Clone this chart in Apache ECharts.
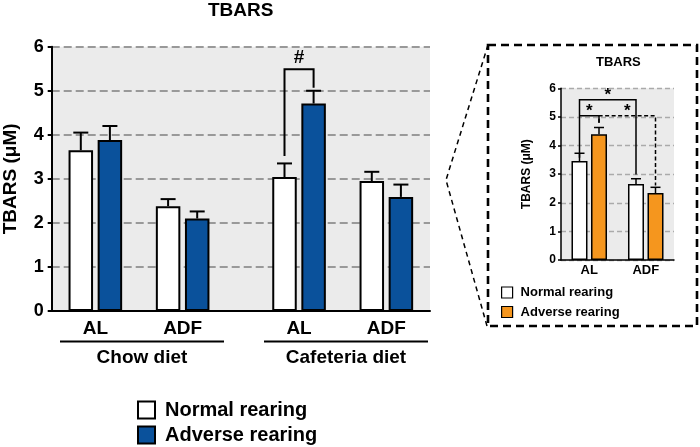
<!DOCTYPE html>
<html>
<head>
<meta charset="utf-8">
<script src="https://cdn.jsdelivr.net/npm/echarts@6/dist/echarts.min.js"></script>
<style>
  html, body { margin: 0; padding: 0; background: #fff; }
  #chart { width: 700px; height: 447px; }
</style>
</head>
<body>
<div id="chart"></div>
<script>
const seriesNames = ['Normal rearing', 'Adverse rearing'];
const groupLabels = ['AL', 'ADF', 'AL', 'ADF'];
const dietLabels = ['Chow diet', 'Cafeteria diet'];
const normalMean = [3.65, 2.38, 3.04, 2.95];
const normalSem = [0.40, 0.16, 0.31, 0.21];
const adverseMean = [3.88, 2.10, 4.71, 2.59];
const adverseSem = [0.32, 0.16, 0.29, 0.28];
// brackets: a / b = [group, 0 normal | 1 adverse], leg ends and top in uM
const mainSig = [
    { a: [2, 0], b: [2, 1], ends: [3.52, 5.07], top: 5.49, mark: '#' },
];

const insetLabels = ['AL', 'ADF'];
const insetNormalMean = [3.46, 2.66];
const insetNormalSem = [0.27, 0.18];
const insetAdverseMean = [4.39, 2.34];
const insetAdverseSem = [0.24, 0.20];
const insetSig = [
    { a: [0, 0], b: [1, 0], ends: [3.57, 2.99], top: 5.6, mark: '*' },
    { a: [0, 0], b: [0, 1], ends: [5.04, 4.8], top: 5.04, mark: '*' },
    { a: [0, 1], b: [1, 1], ends: [4.8, 2.6], top: 5.04, mark: '*', dashed: true },
];

const FONT = 'Arial, "Liberation Sans", Helvetica, sans-serif';
const BLUE = '#0a519b';
const ORANGE = '#f5961e';

// main x axis is a fine value scale, each group sits on a slot
const groupSlot = [3, 9, 17, 23];
const slotOf = (g, side) => groupSlot[g] - 1 + 2 * side;
const slotLabel = {};
groupSlot.forEach((s, i) => { slotLabel[s] = groupLabels[i]; });

const INSET_OFF = 9.75;

function errorBar(xPix, cap, width) {
    return function (params, api) {
        const m = api.value(1);
        const e = api.value(2);
        const x = xPix(api);
        const y0 = api.coord([api.value(0), m])[1];
        const y1 = api.coord([api.value(0), m + e])[1];
        const style = { stroke: '#000', lineWidth: width };
        return {
            type: 'group',
            children: [
                { type: 'line', shape: { x1: x, y1: y0, x2: x, y2: y1 }, style },
                { type: 'line', shape: { x1: x - cap, y1: y1, x2: x + cap, y2: y1 }, style },
            ],
        };
    };
}

function bracket(sig, xOf, width, fontSize, markGap) {
    return function (params, api) {
        const s = sig[params.dataIndex];
        const xa = xOf(api, s.a);
        const xb = xOf(api, s.b);
        const y = v => api.coord([0, v])[1];
        const style = { stroke: '#000', lineWidth: width, fill: null };
        if (s.dashed) style.lineDash = [4, 2.5];
        return {
            type: 'group',
            children: [
                {
                    type: 'polyline',
                    shape: { points: [[xa, y(s.ends[0])], [xa, y(s.top)], [xb, y(s.top)], [xb, y(s.ends[1])]] },
                    style,
                },
                {
                    type: 'text',
                    style: {
                        text: s.mark, x: (xa + xb) / 2, y: y(s.top) - markGap,
                        textAlign: 'center', textVerticalAlign: 'bottom',
                        font: `bold ${fontSize}px ${FONT}`, fill: '#000',
                    },
                },
            ],
        };
    };
}

const mainX = (api, ref) => api.coord([slotOf(ref[0], ref[1]), 0])[0];
const insetX = (api, ref) => api.coord([ref[0], 0])[0] + (ref[1] ? INSET_OFF : -INSET_OFF);

const boldText = size => ({ fontFamily: FONT, fontWeight: 'bold', fontSize: size, color: '#000' });

const myChart = echarts.init(document.getElementById('chart'));

myChart.setOption({
    animation: false,
    title: [
        { text: 'TBARS', left: 208, top: 1, padding: 0, textStyle: boldText(19) },
        { text: 'TBARS', left: 596, top: 56, padding: 0, textStyle: boldText(13) },
    ],
    legend: [
        {
            orient: 'vertical', left: 137, top: 400, padding: 0, icon: 'rect',
            itemWidth: 17, itemHeight: 17, itemGap: 5, selectedMode: false,
            data: seriesNames,
            textStyle: Object.assign(boldText(20), { padding: [0, 0, 0, 5], lineHeight: 20 }),
        },
        {
            orient: 'vertical', left: 501, top: 285, padding: 0, icon: 'rect',
            itemWidth: 11, itemHeight: 11, itemGap: 4.5, selectedMode: false,
            data: [
                { name: seriesNames[0], itemStyle: { color: '#fff', borderColor: '#000', borderWidth: 1.2 } },
                { name: seriesNames[1], itemStyle: { color: ORANGE, borderColor: '#000', borderWidth: 1.2 } },
            ],
            textStyle: Object.assign(boldText(13), { padding: [0, 0, 0, 3], lineHeight: 15 }),
        },
    ],
    grid: [
        {
            left: 51.7, top: 46.7, width: 378.3, height: 264.3, outerBoundsMode: 'none',
            show: true, backgroundColor: '#ebebeb', borderWidth: 0,
        },
        {
            left: 561, top: 88.3, width: 113, height: 171.7, outerBoundsMode: 'none',
            show: true, backgroundColor: '#ebebeb', borderWidth: 0,
        },
    ],
    xAxis: [
        {
            gridIndex: 0, type: 'value', min: 0, max: 26, interval: 1,
            axisLine: { lineStyle: { color: '#000', width: 2 } },
            axisTick: { show: false },
            splitLine: { show: false },
            axisLabel: Object.assign(boldText(19), { margin: 8, formatter: v => slotLabel[v] || '' }),
        },
        {
            gridIndex: 1, type: 'category', data: insetLabels,
            axisLine: { lineStyle: { color: '#000', width: 1.5 } },
            axisTick: { show: false },
            axisLabel: Object.assign(boldText(13), { margin: 4 }),
        },
    ],
    yAxis: [
        {
            gridIndex: 0, type: 'value', min: 0, max: 6, interval: 1,
            name: 'TBARS (\u03bcM)', nameLocation: 'middle', nameGap: 31,
            nameTextStyle: boldText(19),
            axisLine: { show: true, lineStyle: { color: '#000', width: 2 } },
            axisTick: { show: true, length: 4, lineStyle: { color: '#000', width: 2 } },
            axisLabel: Object.assign(boldText(18), { margin: 8 }),
            splitLine: { lineStyle: { color: '#999', width: 2, type: [8, 4] } },
        },
        {
            gridIndex: 1, type: 'value', min: 0, max: 6, interval: 1,
            name: 'TBARS (\u03bcM)', nameLocation: 'middle', nameGap: 28,
            nameTextStyle: boldText(12),
            axisLine: { show: true, lineStyle: { color: '#000', width: 1.5 } },
            axisTick: { show: true, length: 3, lineStyle: { color: '#000', width: 1.5 } },
            axisLabel: Object.assign(boldText(12), { margin: 5 }),
            splitLine: { lineStyle: { color: '#aaa', width: 1.3, type: [5, 3] } },
        },
    ],
    series: [
        {
            name: seriesNames[0], type: 'bar', xAxisIndex: 0, yAxisIndex: 0,
            barWidth: 24.5, barGap: '-100%',
            itemStyle: { color: '#fff', borderColor: '#000', borderWidth: 2 },
            data: normalMean.map((v, i) => [slotOf(i, 0), v]),
        },
        {
            name: seriesNames[1], type: 'bar', xAxisIndex: 0, yAxisIndex: 0,
            barWidth: 24.5, barGap: '-100%',
            itemStyle: { color: BLUE, borderColor: '#000', borderWidth: 2 },
            data: adverseMean.map((v, i) => [slotOf(i, 1), v]),
        },
        {
            type: 'custom', xAxisIndex: 0, yAxisIndex: 0, z: 3,
            encode: { x: 0, y: 1 },
            renderItem: errorBar(api => api.coord([api.value(0), 0])[0], 7.5, 2),
            data: normalMean.map((v, i) => [slotOf(i, 0), v, normalSem[i]])
                .concat(adverseMean.map((v, i) => [slotOf(i, 1), v, adverseSem[i]])),
        },
        {
            type: 'custom', xAxisIndex: 0, yAxisIndex: 0, z: 4,
            encode: { x: 0, y: 1 },
            renderItem: bracket(mainSig, mainX, 2, 19, 2),
            data: mainSig.map(s => [slotOf(s.a[0], s.a[1]), s.top]),
        },
        {
            name: seriesNames[0], type: 'bar', xAxisIndex: 1, yAxisIndex: 1,
            barWidth: 16, barGap: '22%',
            itemStyle: { color: '#fff', borderColor: '#000', borderWidth: 1.5 },
            data: insetNormalMean,
        },
        {
            name: seriesNames[1], type: 'bar', xAxisIndex: 1, yAxisIndex: 1,
            barWidth: 16, barGap: '22%',
            itemStyle: { color: ORANGE, borderColor: '#000', borderWidth: 1.5 },
            data: insetAdverseMean,
        },
        {
            type: 'custom', xAxisIndex: 1, yAxisIndex: 1, z: 3,
            encode: { x: 0, y: 1 },
            renderItem: errorBar(api => api.coord([api.value(0), 0])[0] + (api.value(3) ? INSET_OFF : -INSET_OFF), 5, 1.5),
            data: insetNormalMean.map((v, i) => [i, v, insetNormalSem[i], 0])
                .concat(insetAdverseMean.map((v, i) => [i, v, insetAdverseSem[i], 1])),
        },
        {
            type: 'custom', xAxisIndex: 1, yAxisIndex: 1, z: 4,
            encode: { x: 0, y: 1 },
            renderItem: bracket(insetSig, insetX, 1.5, 17, -4),
            data: insetSig.map(s => [s.a[0], s.top]),
        },
    ],
    graphic: [
        { type: 'line', shape: { x1: 60, y1: 341.5, x2: 224, y2: 341.5 }, style: { stroke: '#000', lineWidth: 2 } },
        { type: 'line', shape: { x1: 264, y1: 341.5, x2: 428, y2: 341.5 }, style: { stroke: '#000', lineWidth: 2 } },
        {
            type: 'text', x: 142, y: 358,
            style: { text: dietLabels[0], textAlign: 'center', textVerticalAlign: 'middle', font: `bold 19px ${FONT}`, fill: '#000' },
        },
        {
            type: 'text', x: 346, y: 358,
            style: { text: dietLabels[1], textAlign: 'center', textVerticalAlign: 'middle', font: `bold 19px ${FONT}`, fill: '#000' },
        },
        {
            type: 'rect', shape: { x: 488, y: 45, width: 209, height: 281 },
            style: { fill: null, stroke: '#000', lineWidth: 2.6, lineDash: [8, 5] },
        },
        {
            type: 'polyline', shape: { points: [[488, 45], [446, 180], [487, 326]] },
            style: { fill: null, stroke: '#000', lineWidth: 1.5, lineDash: [5, 4] },
        },
    ],
});
</script>
</body>
</html>
